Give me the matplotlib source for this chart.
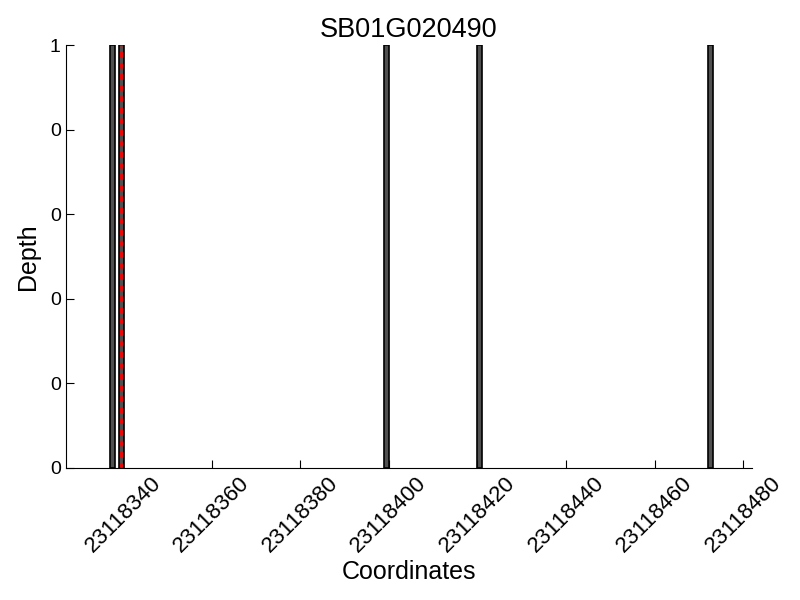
import matplotlib
matplotlib.use("Agg")
import matplotlib.pyplot as plt
import matplotlib.ticker as ticker

plt.rcParams["font.family"] = ["Liberation Sans", "DejaVu Sans"]

gene = "SB01G020490"
positions = [23118337, 23118339, 23118399, 23118420, 23118472]
depths = [1, 1, 1, 1, 1]
marker_pos = 23118339.5
xticks = [23118340, 23118360, 23118380, 23118400, 23118420, 23118440, 23118460, 23118480]
yticks = [0, 0.2, 0.4, 0.6, 0.8, 1.0]

fig = plt.figure(figsize=(8, 6), dpi=100)
ax = fig.add_axes([0.082, 0.22, 0.858, 0.705])

ax.bar(positions, depths, width=1.1, align="edge", color="#505050",
       edgecolor="black", linewidth=1.2)
ax.axvline(marker_pos, color="red", linestyle="--", linewidth=2, dashes=(2, 2))

ax.set_xlim(min(positions) - 10, max(positions) + 10)
ax.set_ylim(0, 1)
ax.set_xticks(xticks)
ax.set_yticks(yticks)
ax.xaxis.set_major_formatter(ticker.FuncFormatter(lambda v, _: f"{int(v)}"))
ax.yaxis.set_major_formatter(ticker.FuncFormatter(lambda v, _: f"{int(v)}"))
ax.tick_params(direction="in", labelsize=14, length=6)
ax.tick_params(axis="x", labelsize=16)
plt.setp(ax.get_xticklabels(), rotation=45, ha="center")

ax.spines[["top", "right"]].set_visible(False)
ax.set_title(gene, fontsize=19.5, pad=6)
ax.set_xlabel("Coordinates", fontsize=18, labelpad=2)
ax.set_ylabel("Depth", fontsize=18, labelpad=7)

fig.savefig("out.png", dpi=100)
